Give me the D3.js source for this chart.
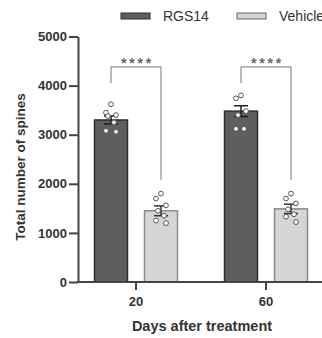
<!DOCTYPE html>
<html>
<head>
<meta charset="utf-8">
<script src="https://cdn.jsdelivr.net/npm/d3@7"></script>
<style>
  html, body { margin: 0; padding: 0; background: #fff; }
  svg { display: block; font-family: "Liberation Sans", Arial, sans-serif; }
</style>
</head>
<body>
<div id="chart"></div>
<script>
"use strict";

// --- data ---
const days = ["20", "60"];
const groups = ["RGS14", "Vehicle"];
const meanRGS14 = [3300, 3480];
const meanVehicle = [1450, 1490];
const semRGS14 = [80, 110];
const semVehicle = [100, 95];
const ptsRGS14 = [
  [3620, 3450, 3400, 3380, 3250, 3080, 3060],
  [3800, 3740, 3480, 3400, 3120, 3120]
];
const ptsVehicle = [
  [1800, 1700, 1560, 1450, 1350, 1250, 1200],
  [1800, 1700, 1600, 1480, 1380, 1330, 1220]
];
const yTicks = [0, 1000, 2000, 3000, 4000, 5000];
const sigLabels = ["****", "****"];
const bracketTop = 4380, bracketLeftEnd = 4050, bracketRightEnd = 2080;

const W = 322, H = 338;
const COL = { RGS14: { fill: "#5e5e5e", stroke: "#2e2e2e" }, Vehicle: { fill: "#d6d6d6", stroke: "#8a8a8a" } };
const AXIS = "#444";

const svg = d3.select("#chart").append("svg").attr("width", W).attr("height", H);

const x0 = d3.scaleBand().domain(days).range([71, 331]).padding(0);
const x1 = d3.scaleBand().domain(groups).range([15, 115]).paddingInner(0.34).paddingOuter(0.17);
const y = d3.scaleLinear().domain([0, 5000]).range([282, 36.5]);

const rows = days.map((d, i) => ({
  day: d,
  bars: [
    { g: "RGS14", mean: meanRGS14[i], sem: semRGS14[i], pts: ptsRGS14[i] },
    { g: "Vehicle", mean: meanVehicle[i], sem: semVehicle[i], pts: ptsVehicle[i] }
  ]
}));

// --- bars ---
const dayG = svg.selectAll(".day").data(rows).enter().append("g")
  .attr("transform", d => `translate(${x0(d.day)},0)`);

dayG.selectAll("rect.bar").data(d => d.bars).enter().append("rect")
  .attr("class", "bar")
  .attr("x", d => x1(d.g)).attr("width", x1.bandwidth())
  .attr("y", d => y(d.mean)).attr("height", d => y(0) - y(d.mean))
  .attr("fill", d => COL[d.g].fill).attr("stroke", d => COL[d.g].stroke).attr("stroke-width", 1.5);

// --- error bars (mean ± SEM) ---
dayG.each(function (d) {
  const el = d3.select(this);
  d.bars.forEach(b => {
    const cx = x1(b.g) + x1.bandwidth() / 2;
    const col = b.g === "RGS14" ? "#1e1e1e" : "#333";
    el.append("line").attr("x1", cx).attr("x2", cx).attr("y1", y(b.mean + b.sem)).attr("y2", y(b.mean - b.sem))
      .attr("stroke", col).attr("stroke-width", 1.5);
    [b.mean + b.sem, b.mean - b.sem].forEach(v => {
      el.append("line").attr("x1", cx - 7).attr("x2", cx + 7).attr("y1", y(v)).attr("y2", y(v))
        .attr("stroke", col).attr("stroke-width", 1.5);
    });
  });
});

// --- individual points ---
const jitter = [0, -5, 5, -3, 3, -5, 5];
dayG.each(function (d) {
  const el = d3.select(this);
  d.bars.forEach(b => {
    const cx = x1(b.g) + x1.bandwidth() / 2;
    el.selectAll(null).data(b.pts).enter().append("circle")
      .attr("cx", (v, i) => cx + jitter[i % jitter.length])
      .attr("cy", v => y(v)).attr("r", 2.4)
      .attr("fill", "#fff").attr("stroke", "#555").attr("stroke-width", 1);
  });
});

// --- significance brackets ---
dayG.each(function (d, i) {
  const el = d3.select(this);
  const xl = x1("RGS14") + x1.bandwidth() / 2, xr = x1("Vehicle") + x1.bandwidth() / 2;
  el.append("path")
    .attr("d", `M${xl},${y(bracketLeftEnd)}V${y(bracketTop)}H${xr}V${y(bracketRightEnd)}`)
    .attr("fill", "none").attr("stroke", "#777").attr("stroke-width", 1);
  el.append("text").attr("x", (xl + xr) / 2 + 1.4).attr("y", y(bracketTop) + 1)
    .attr("text-anchor", "middle").attr("font-size", 14).attr("font-weight", "bold")
    .attr("letter-spacing", 2.8).attr("fill", "#666")
    .text(sigLabels[i]);
});

// --- axes ---
const yAxis = svg.append("g").attr("transform", "translate(78,0)")
  .call(d3.axisLeft(y).tickValues(yTicks).tickSize(9).tickSizeOuter(0).tickPadding(2).tickFormat(d3.format("d")));
yAxis.select(".domain").attr("stroke", AXIS).attr("stroke-width", 2);
yAxis.selectAll(".tick line").attr("stroke", AXIS).attr("stroke-width", 2);
yAxis.selectAll(".tick text").attr("font-size", 13).attr("font-weight", "bold").attr("fill", "#333")
  .attr("font-family", "Liberation Sans, Arial, sans-serif");

const xAxis = svg.append("g").attr("transform", `translate(0,${y(0)})`)
  .call(d3.axisBottom(x0).tickSize(8).tickSizeOuter(0).tickPadding(7));
xAxis.select(".domain").attr("d", `M77,0H${W}`).attr("stroke", AXIS).attr("stroke-width", 2);
xAxis.selectAll(".tick line").attr("stroke", AXIS).attr("stroke-width", 2);
xAxis.selectAll(".tick text").attr("font-size", 13).attr("font-weight", "bold").attr("fill", "#333")
  .attr("font-family", "Liberation Sans, Arial, sans-serif");

// --- axis titles ---
svg.append("text").attr("transform", "translate(25,167) rotate(-90)")
  .attr("text-anchor", "middle").attr("font-size", 13.5).attr("font-weight", "bold").attr("fill", "#333")
  .text("Total number of spines");
svg.append("text").attr("x", 202).attr("y", 331)
  .attr("text-anchor", "middle").attr("font-size", 14.5).attr("font-weight", "bold").attr("fill", "#333")
  .text("Days after treatment");

// --- legend ---
const legX = [121, 237];
const leg = svg.selectAll(".leg").data(groups).enter().append("g")
  .attr("transform", (d, i) => `translate(${legX[i]},13)`);
leg.append("rect").attr("width", 29).attr("height", 6)
  .attr("fill", d => COL[d].fill).attr("stroke", d => d === "RGS14" ? COL[d].stroke : "#666").attr("stroke-width", 1);
leg.append("text").attr("x", 42).attr("y", 8).attr("font-size", 14).attr("fill", "#333")
  .text(d => d);
</script>
</body>
</html>
